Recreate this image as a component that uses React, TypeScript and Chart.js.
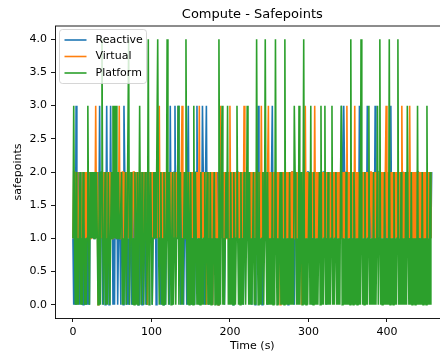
import React, { useEffect, useRef } from "react";
import { Chart, registerables } from "chart.js";

Chart.register(...registerables);

// Safepoint counts per second (index = time in s)
const REACTIVE_VALUES = [
  "1020301201", "2010201020", "1021212121", "2121312101", "2013120131",
  "2010212012", "1021032101", "0101201021", "2120102101", "0120202121",
  "2012120212", "1201202101", "2120312012", "3121312021", "2012102312",
  "1021201231", "2012132102", "3120121201", "2121202121", "2120121212",
  "1212021212", "2121212012", "1212121202", "1201213121", "2012121202",
  "1212312121", "2121212121", "1212021212", "2101212121", "1212121212",
  "2121201212", "1212121212", "2120121212", "1212121212", "2131232121",
  "2121212121", "2120131212", "1202131212", "1212131212", "2121212121",
  "2121231212", "1212121212", "2121212121", "1212121212", "2121212121",
  "12121212",
].join("");

const VIRTUAL_VALUES = [
  "1221212112", "2121121212", "1212121213", "1201212121", "2121212112",
  "1212121213", "1212211212", "1212121221", "2121212121", "2121202121",
  "2121212121", "3121212121", "2121212121", "2121212123", "1212121212",
  "1212121212", "1312121212", "0212121202", "1212102131", "2121212121",
  "3121212121", "2121212131", "2121212121", "2121212121", "3121212123",
  "1212121212", "1212021212", "1212121212", "2121212121", "2021213121",
  "2121212131", "2121212121", "2121212121", "2121212121", "2121212123",
  "1212121213", "1212121212", "1212121212", "2121212121", "2121212123",
  "1212121212", "1212121213", "1212121213", "1212121212", "1212121212",
  "1212121",
].join("");

const PLATFORM_VALUES = [
  "1310201012", "0102101013", "1021212121", "2101202410", "1201021012",
  "1313131121", "1120101201", "1401210102", "1020131021", "0121014012",
  "1012121141", "0120102101", "4102101201", "2011301201", "0121410201",
  "2010302101", "0102010120", "1201020101", "2010104102", "3010121301",
  "0201021013", "1010201021", "0131020101", "2010410201", "0120141020",
  "1010201041", "0101202010", "4010102010", "1032101030", "1201401010",
  "1203010201", "0101203010", "1301020101", "3010120101", "0230101020",
  "1010401021", "0101020410", "1020101301", "0102010130", "1401010201",
  "0104010102", "0101401020", "1010203101", "0201010103", "0101020101",
  "0301020",
].join("");

const SERIES_NAMES = ["Reactive", "Virtual", "Platform"];
const SERIES_COLORS = ["#1f77b4", "#ff7f0e", "#2ca02c"];
const X_TICKS = [0, 100, 200, 300, 400];
const Y_TICKS = [0, 0.5, 1, 1.5, 2, 2.5, 3, 3.5, 4];
const TITLE = "Compute - Safepoints";
const X_LABEL = "Time (s)";
const Y_LABEL = "safepoints";

const FONT = "'DejaVu Sans', sans-serif";

function toPoints(s: string) {
  return s.split("").map((c, i) => ({ x: i, y: Number(c) }));
}

const CANVAS_W = 460;
const CANVAS_H = 356;

export default function App() {
  const ref = useRef<HTMLCanvasElement | null>(null);

  useEffect(() => {
    const canvas = ref.current;
    if (!canvas) return;
    const series = [REACTIVE_VALUES, VIRTUAL_VALUES, PLATFORM_VALUES];
    const n = Math.max(...series.map((s) => s.length)) - 1;
    const xMin = -0.05 * n;
    const xMax = n + 0.05 * n;

    const decor = {
      id: "decor",
      beforeDraw(chart: any) {
        const ctx = chart.ctx;
        ctx.save();
        ctx.fillStyle = "#ffffff";
        ctx.fillRect(0, 0, chart.width, chart.height);
        ctx.restore();
      },
      afterDraw(chart: any) {
        const ctx = chart.ctx;
        const a = chart.chartArea;
        ctx.save();
        // top / right spines
        ctx.strokeStyle = "#000";
        ctx.lineWidth = 0.9;
        ctx.beginPath();
        ctx.moveTo(a.left, a.top);
        ctx.lineTo(a.right, a.top);
        ctx.lineTo(a.right, a.bottom);
        ctx.stroke();
        // title
        ctx.fillStyle = "#000";
        ctx.textAlign = "center";
        ctx.textBaseline = "middle";
        ctx.font = `13px ${FONT}`;
        ctx.fillText(TITLE, (a.left + a.right) / 2, 15);
        // x label
        ctx.font = `11px ${FONT}`;
        ctx.fillText(X_LABEL, (a.left + a.right) / 2, 346);
        // y label
        ctx.save();
        ctx.translate(18, (a.top + a.bottom) / 2);
        ctx.rotate(-Math.PI / 2);
        ctx.fillText(Y_LABEL, 0, 0);
        ctx.restore();
        // legend
        const bx = 59.5, by = 29.5, bw = 87, bh = 54;
        ctx.beginPath();
        (ctx as any).roundRect(bx, by, bw, bh, 3);
        ctx.fillStyle = "rgba(255,255,255,0.8)";
        ctx.fill();
        ctx.strokeStyle = "rgba(204,204,204,0.8)";
        ctx.lineWidth = 1;
        ctx.stroke();
        const rows = [40, 56.5, 73];
        ctx.textAlign = "left";
        ctx.font = `11px ${FONT}`;
        SERIES_NAMES.forEach((name, i) => {
          ctx.strokeStyle = SERIES_COLORS[i];
          ctx.lineWidth = 1.6;
          ctx.beginPath();
          ctx.moveTo(64.5, rows[i]);
          ctx.lineTo(86.5, rows[i]);
          ctx.stroke();
          ctx.fillStyle = "#000";
          ctx.fillText(name, 95.5, rows[i]);
        });
        ctx.restore();
      },
    };

    const chart = new Chart(canvas, {
      type: "line",
      data: {
        datasets: series.map((s, i) => ({
          label: SERIES_NAMES[i],
          data: toPoints(s),
          borderColor: SERIES_COLORS[i],
          backgroundColor: SERIES_COLORS[i],
          borderWidth: 1.6,
          pointRadius: 0,
          tension: 0,
          fill: false,
          order: 3 - i,
        })),
      },
      options: {
        animation: false,
        responsive: false,
        devicePixelRatio: 1,
        parsing: false as any,
        normalized: true,
        events: [],
        layout: { padding: { left: 0, top: 26, right: CANVAS_W - 449.6, bottom: 0 } },
        plugins: {
          legend: { display: false },
          title: { display: false },
          tooltip: { enabled: false },
        },
        scales: {
          x: {
            type: "linear",
            min: xMin,
            max: xMax,
            afterFit: (scale: any) => {
              scale.height = 38;
            },
            afterBuildTicks: (scale: any) => {
              scale.ticks = X_TICKS.map((v) => ({ value: v }));
            },
            ticks: {
              color: "#000",
              font: { family: FONT, size: 11 },
              padding: 4,
              autoSkip: false,
              maxRotation: 0,
              callback: (v: any) => String(v),
            },
            grid: {
              drawOnChartArea: false,
              drawTicks: true,
              tickLength: 4,
              tickColor: "#000",
              tickWidth: 0.9,
            },
            border: { display: true, color: "#000", width: 0.9 },
          },
          y: {
            type: "linear",
            min: -0.2,
            max: 4.2,
            afterFit: (scale: any) => {
              scale.width = 55;
            },
            afterBuildTicks: (scale: any) => {
              scale.ticks = Y_TICKS.map((v) => ({ value: v }));
            },
            ticks: {
              color: "#000",
              font: { family: FONT, size: 11 },
              padding: 4,
              autoSkip: false,
              callback: (v: any) => Number(v).toFixed(1),
            },
            grid: {
              drawOnChartArea: false,
              drawTicks: true,
              tickLength: 4,
              tickColor: "#000",
              tickWidth: 0.9,
            },
            border: { display: true, color: "#000", width: 0.9 },
          },
        },
      } as any,
      plugins: [decor],
    });

    return () => {
      chart.destroy();
    };
  }, []);

  return (
    <div
      style={{
        position: "fixed",
        left: 0,
        top: 0,
        width: 440,
        height: 356,
        overflow: "hidden",
        background: "#fff",
      }}
    >
      <canvas
        ref={ref}
        width={CANVAS_W}
        height={CANVAS_H}
        style={{ width: CANVAS_W, height: CANVAS_H, display: "block" }}
      />
    </div>
  );
}
